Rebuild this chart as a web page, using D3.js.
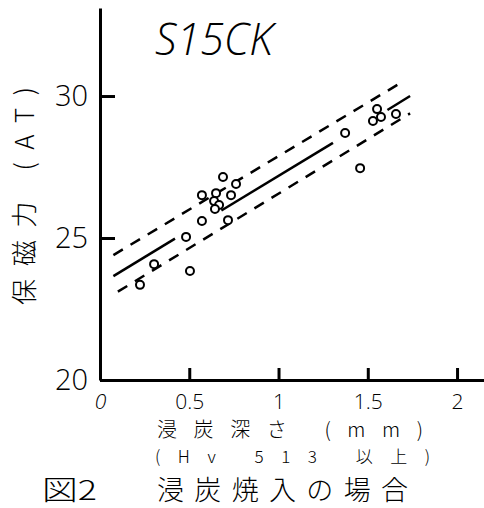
<!DOCTYPE html>
<html>
<head>
<meta charset="utf-8">
<script src="https://cdn.jsdelivr.net/npm/d3@7"></script>
<style>
  body { margin: 0; background: #fff; }
  svg { display: block; }
  .axis path, .axis line { stroke: #000; }
  .axis text { font-family: "Open Sans", "DejaVu Sans", sans-serif; font-weight: 300; fill: #000; }
  .jp { font-family: "Noto Sans CJK JP", sans-serif; font-weight: 300; fill: #000; }
</style>
</head>
<body>
<div id="chart"></div>
<script>
// 測定点: 浸炭深さ (mm) と 保磁力 (AT)
const depth = [0.224, 0.303, 0.504, 0.482, 0.571, 0.571, 0.650, 0.639, 0.667, 0.644,
               0.689, 0.734, 0.762, 0.717, 1.373, 1.457, 1.552, 1.529, 1.574, 1.658];
const force = [23.35, 24.08, 23.84, 25.04, 25.60, 26.51, 26.58, 26.30, 26.16, 26.02,
               27.15, 26.51, 26.90, 25.63, 28.70, 27.46, 29.54, 29.12, 29.26, 29.37];

// 回帰直線 (点の所で切れている) と上下の破線
const fitSegments = [
  [[0.075, 23.66], [0.42, 24.98]],
  [[0.68, 25.97], [1.305, 28.35]],
  [[1.61, 29.51], [1.737, 30.0]]
];
const upperBand = [[0.075, 24.40], [1.681, 30.45]];
const lowerBand = [[0.10, 23.11], [1.737, 29.39]];

const xTicks = [0, 0.5, 1, 1.5, 2];
const yTicks = [20, 25, 30];

const title = "S15CK";
const yLabel = "保磁力 (AT)";
const xLabel1 = "浸炭深さ (mm)";
const xLabel2 = "(Hv 513 以上)";
const figNo = "図2";
const caption = "浸炭焼入の場合";

const width = 484, height = 508;

const svg = d3.select("#chart").append("svg")
  .attr("width", width)
  .attr("height", height);

const x = d3.scaleLinear().domain([0, 2.151]).range([100, 484]);
const y = d3.scaleLinear().domain([20, 33.1]).range([380, 8]);

// 軸
const yAxis = svg.append("g")
  .attr("class", "axis")
  .attr("transform", "translate(100,0)")
  .call(d3.axisLeft(y).tickValues(yTicks).tickSizeInner(-15).tickSizeOuter(0).tickPadding(12));
yAxis.select(".domain").attr("stroke-width", 3);
yAxis.selectAll(".tick line").attr("stroke-width", 3);
yAxis.selectAll(".tick text").attr("font-size", 29);

const xAxis = svg.append("g")
  .attr("class", "axis")
  .attr("transform", "translate(0,380)")
  .call(d3.axisBottom(x).tickValues(xTicks).tickFormat(d => String(d))
    .tickSizeInner(-12).tickSizeOuter(0).tickPadding(14));
xAxis.select(".domain").attr("stroke-width", 3);
xAxis.selectAll(".tick line").attr("stroke-width", 3)
  .attr("display", d => d === 0 ? "none" : null);
xAxis.selectAll(".tick text").attr("font-size", 21)
  .attr("font-style", d => d === 0 ? "italic" : null);

// 線
const line = d3.line().x(d => x(d[0])).y(d => y(d[1]));

svg.append("g").selectAll("path")
  .data(fitSegments)
  .enter().append("path")
  .attr("d", line)
  .attr("fill", "none")
  .attr("stroke", "#000")
  .attr("stroke-width", 2.5);

svg.append("g").selectAll("path")
  .data([upperBand, lowerBand])
  .enter().append("path")
  .attr("d", line)
  .attr("fill", "none")
  .attr("stroke", "#000")
  .attr("stroke-width", 2.5)
  .attr("stroke-dasharray", "11,9");

// 点
svg.append("g").selectAll("circle")
  .data(depth.map((d, i) => [d, force[i]]))
  .enter().append("circle")
  .attr("cx", d => x(d[0]))
  .attr("cy", d => y(d[1]))
  .attr("r", 4)
  .attr("fill", "#fff")
  .attr("stroke", "#000")
  .attr("stroke-width", 2);

// 文字
svg.append("text")
  .attr("x", 155)
  .attr("y", 55)
  .attr("font-family", "Open Sans, DejaVu Sans, sans-serif")
  .attr("font-style", "italic")
  .attr("font-weight", 300)
  .attr("font-size", 44)
  .attr("textLength", 118)
  .attr("lengthAdjust", "spacingAndGlyphs")
  .text(title);

svg.append("text")
  .attr("class", "jp")
  .attr("transform", "translate(25,196) rotate(-90)")
  .attr("text-anchor", "middle")
  .attr("dy", "0.35em")
  .attr("font-size", 26)
  .attr("textLength", 218)
  .attr("lengthAdjust", "spacing")
  .text(yLabel);

svg.append("text")
  .attr("class", "jp")
  .attr("x", 157)
  .attr("y", 430)
  .attr("dy", "0.35em")
  .attr("font-size", 20)
  .attr("textLength", 266)
  .attr("lengthAdjust", "spacing")
  .text(xLabel1);

svg.append("text")
  .attr("class", "jp")
  .attr("x", 155)
  .attr("y", 457)
  .attr("dy", "0.35em")
  .attr("font-size", 17)
  .attr("textLength", 275)
  .attr("lengthAdjust", "spacing")
  .text(xLabel2);

svg.append("text")
  .attr("class", "jp")
  .attr("x", 42)
  .attr("y", 491)
  .attr("dy", "0.35em")
  .attr("font-size", 27)
  .attr("textLength", 55)
  .attr("lengthAdjust", "spacingAndGlyphs")
  .text(figNo);

svg.append("text")
  .attr("class", "jp")
  .attr("x", 157)
  .attr("y", 491)
  .attr("dy", "0.35em")
  .attr("font-size", 27)
  .attr("textLength", 251)
  .attr("lengthAdjust", "spacing")
  .text(caption);
</script>
</body>
</html>
